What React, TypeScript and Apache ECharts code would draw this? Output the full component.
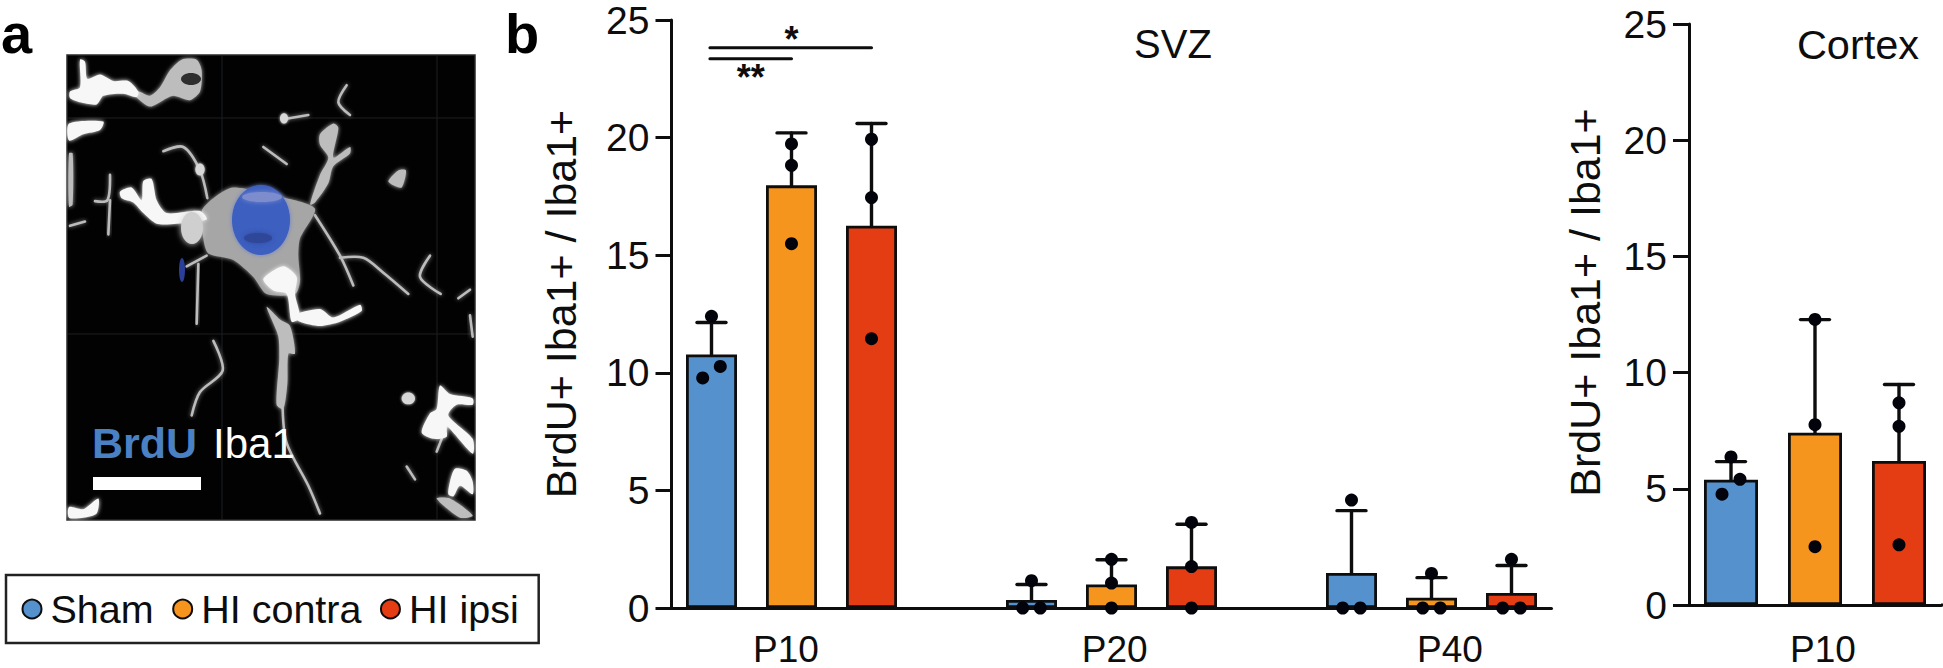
import React, { useEffect, useRef } from "react";
import * as echarts from "echarts";

const FONT = '"Liberation Sans", Arial, sans-serif';
const INK = "#0d0d0d";

const groupNames = ["Sham", "HI contra", "HI ipsi"];
const groupColors = ["#5591cc", "#f6951e", "#e53d13"];
const yLabel = "BrdU+ Iba1+ / Iba1+";

const svzTimeLabels = ["P10", "P20", "P40"];
const svzLabelSlots = [1.431, 5.54, 9.73];
const svzSlotNames = ["P10 Sham", "P10 HI contra", "P10 HI ipsi", "", "P20 Sham", "P20 HI contra", "P20 HI ipsi", " ", "P40 Sham", "P40 HI contra", "P40 HI ipsi"];
const svzSlots = [[0, 4, 8], [1, 5, 9], [2, 6, 10]];

const svzShamMeans = [10.78, 0.34, 1.49];
const svzContraMeans = [17.97, 1.0, 0.44];
const svzIpsiMeans = [16.25, 1.77, 0.64];
const svzShamCaps = [12.14, 1.0, 4.14];
const svzContraCaps = [20.2, 2.05, 1.29];
const svzIpsiCaps = [20.6, 3.56, 1.81];
// [offset within the slot, value]
const svzShamDots = [
  [[0, 12.4], [0.11, 10.27], [-0.11, 9.78]],
  [[0, 1.16], [0.11, 0], [-0.11, 0]],
  [[0, 4.59], [0.11, 0], [-0.11, 0]],
];
const svzContraDots = [
  [[0, 19.73], [0, 18.82], [0, 15.49]],
  [[0, 2.07], [0, 1.06], [0, 0]],
  [[0, 1.47], [0.11, 0], [-0.11, 0]],
];
const svzIpsiDots = [
  [[0, 19.93], [0, 17.45], [0, 11.45]],
  [[0, 3.64], [0, 1.76], [0, 0]],
  [[0, 2.07], [0.11, 0], [-0.11, 0]],
];

const cortexLabels = ["P10"];
const cortexLabelSlots = [1.595];
const cortexSlotNames = ["P10 Sham", "P10 HI contra", "P10 HI ipsi"];
const cortexMeans = [5.39, 7.41, 6.2];
const cortexCaps = [6.17, 12.28, 9.49];
const cortexDots = [
  [[0, 6.37], [0.107, 5.41], [-0.107, 4.77]],
  [[0, 12.29], [0, 7.76], [0, 2.51]],
  [[0, 8.7], [0, 7.69], [0, 2.59]],
];

const sigLines = [
  { from: 0.48, to: 2.5, y: 23.82 },
  { from: 0.48, to: 1.5, y: 23.35 },
];
const sigMarks = [
  { x: 1.5, y: 24.17, text: "*" },
  { x: 0.99, y: 22.57, text: "**" },
];

// Micrograph shapes traced in the local space of the picture panel
const whiteShapes: number[][][] = [
  [[210, 215], [240, 205], [240, 140], [255, 145], [262, 185], [300, 175], [340, 190], [385, 190], [415, 215], [410, 228], [370, 220], [310, 225], [290, 245], [240, 240], [210, 230]],
  [[207, 290], [310, 285], [300, 305], [250, 315], [207, 330]],
  [[360, 450], [395, 440], [425, 470], [430, 425], [455, 420], [470, 470], [500, 500], [600, 495], [620, 515], [530, 525], [470, 525], [430, 500], [400, 475], [365, 465]],
  [[880, 740], [960, 725], [1000, 745], [1080, 715], [1085, 730], [1020, 755], [960, 765], [900, 755]],
  [[1265, 1015], [1290, 970], [1310, 960], [1320, 905], [1350, 925], [1418, 935], [1418, 950], [1370, 950], [1345, 975], [1418, 1030], [1418, 1065], [1340, 1000], [1340, 1025], [1300, 1030]],
  [[1350, 1130], [1365, 1100], [1400, 1105], [1418, 1130], [1418, 1160], [1380, 1140], [1360, 1165], [1345, 1160]],
  [[207, 1190], [250, 1195], [295, 1170], [290, 1205], [250, 1215], [207, 1215]],
  [[790, 655], [850, 625], [890, 650], [885, 690], [900, 745], [875, 755], [860, 690], [820, 682]],
];
const greyShapes: number[][][] = [
  [[415, 215], [450, 225], [480, 205], [510, 165], [545, 140], [590, 140], [605, 165], [600, 215], [570, 235], [520, 225], [490, 235], [450, 250], [410, 228]],
  [[207, 360], [218, 360], [218, 480], [207, 485]],
  [[930, 480], [960, 410], [985, 370], [960, 340], [960, 315], [1000, 290], [1015, 300], [1000, 370], [1050, 345], [1050, 360], [1000, 390], [985, 430], [945, 475]],
  [[800, 720], [840, 750], [870, 765], [885, 830], [865, 830], [862, 900], [850, 960], [830, 950], [838, 840], [835, 790], [815, 750]],
  [[1310, 1170], [1350, 1170], [1418, 1210], [1380, 1215]],
  [[1165, 425], [1195, 400], [1218, 400], [1205, 440], [1180, 435]],
];
const cellBody = [[605, 495], [640, 465], [700, 440], [860, 465], [945, 490], [900, 560], [895, 600], [900, 660], [885, 690], [800, 690], [760, 650], [700, 610], [625, 595], [610, 560]];
const thin: number[][][] = [
  [[945, 505], [1020, 600], [1060, 670]],
  [[1020, 605], [1090, 605], [1150, 640], [1225, 690]],
  [[490, 355], [550, 345], [600, 400], [622, 465]],
  [[790, 345], [860, 385]],
  [[850, 280], [925, 270]],
  [[595, 620], [590, 760]],
  [[560, 625], [620, 600]],
  [[848, 960], [860, 1040], [925, 1140], [960, 1205]],
  [[210, 530], [255, 520]],
  [[1290, 600], [1260, 650], [1322, 690]],
  [[1040, 200], [1015, 240], [1050, 270]],
  [[1220, 1095], [1245, 1125]],
  [[1375, 700], [1410, 680]],
  [[1410, 740], [1418, 790]],
  [[640, 800], [668, 870], [600, 920], [575, 975]],
  [[330, 410], [322, 470], [285, 472]],
  [[330, 470], [325, 550]],
  [[1310, 1060], [1340, 1000]],
];
// [x, y, rx, ry]
const specks: number[][] = [
  [852, 278, 12, 12],
  [1225, 935, 20, 14],
  [600, 398, 14, 14],
];

const toPx = (p: number[]) => [p[0] / 3, p[1] / 2.347];

function stroke(points: number[][], lineWidth: number, color: string) {
  return {
    type: "polyline",
    shape: { points: points.map(toPx), smooth: 0.3 },
    style: { stroke: color, lineWidth, fill: "none", lineCap: "round", lineJoin: "round", shadowBlur: 4, shadowColor: "rgba(190,190,190,0.7)" },
    silent: true,
  };
}

function blob(points: number[][], color: string) {
  return {
    type: "polygon",
    shape: { points: points.map(toPx), smooth: 0.25 },
    style: { fill: color, shadowBlur: 4, shadowColor: color },
    silent: true,
  };
}

function micrograph() {
  const grid = [
    { shape: { x1: 222, y1: 56, x2: 222, y2: 519 } },
    { shape: { x1: 437, y1: 56, x2: 437, y2: 519 } },
    { shape: { x1: 68, y1: 118, x2: 474, y2: 118 } },
    { shape: { x1: 68, y1: 334, x2: 474, y2: 334 } },
  ].map((l) => ({ type: "line", ...l, style: { stroke: "#1a1e22", lineWidth: 1 }, silent: true }));
  return [
    { type: "rect", shape: { x: 67, y: 55, width: 408, height: 465 }, style: { fill: "#020202", stroke: "#2a2a2a", lineWidth: 1.5 }, silent: true },
    ...grid,
    ...thin.map((s) => stroke(s, 2.6, "#bcbcbc")),
    ...greyShapes.map((s) => blob(s, "#bdbdbd")),
    blob(cellBody, "#a6a6a6"),
    ...whiteShapes.map((s) => blob(s, "#f7f7f7")),
    { type: "ellipse", shape: { cx: 192, cy: 535 / 2.347, rx: 11, ry: 16 }, style: { fill: "#cfcfcf", shadowBlur: 6, shadowColor: "#cfcfcf" }, silent: true },
    { type: "ellipse", shape: { cx: 191, cy: 79, rx: 10, ry: 6 }, style: { fill: "#2e2e2e" }, silent: true },
    ...specks.map(([x, y, rx, ry]) => ({
      type: "ellipse",
      shape: { cx: x / 3, cy: y / 2.347, rx: rx / 3, ry: ry / 2.347 },
      style: { fill: "#d8d8d8", shadowBlur: 3, shadowColor: "#d8d8d8" },
      silent: true,
    })),
    { type: "ellipse", shape: { cx: 261, cy: 220, rx: 29, ry: 35 }, style: { fill: "#3d5ec0", shadowBlur: 4, shadowColor: "#6a7fc8" }, silent: true },
    { type: "ellipse", shape: { cx: 262, cy: 197, rx: 20, ry: 5 }, style: { fill: "#7c8ccd", shadowBlur: 5, shadowColor: "#7c8ccd" }, silent: true },
    { type: "ellipse", shape: { cx: 258, cy: 238, rx: 14, ry: 5 }, style: { fill: "#2f4699", shadowBlur: 5, shadowColor: "#2f4699" }, silent: true },
    { type: "ellipse", shape: { cx: 182, cy: 270, rx: 3, ry: 12 }, style: { fill: "#2b3f96" }, silent: true },
    { type: "text", x: 92, y: 443, style: { text: "BrdU", font: `bold 43px ${FONT}`, fill: "#4a80c4", verticalAlign: "middle" }, silent: true },
    { type: "text", x: 213, y: 443, style: { text: "Iba1", font: `42px ${FONT}`, fill: "#ffffff", verticalAlign: "middle" }, silent: true },
    { type: "rect", shape: { x: 93, y: 477, width: 108, height: 13 }, style: { fill: "#ffffff" }, silent: true },
  ];
}

function errorSeries(name: string, xAxisIndex: number, yAxisIndex: number, data: number[][]) {
  return {
    type: "custom",
    name,
    xAxisIndex,
    yAxisIndex,
    z: 3,
    clip: false,
    data,
    renderItem: (_: any, api: any) => {
      const base = api.coord([api.value(0), api.value(1)]);
      const top = api.coord([api.value(0), api.value(2)]);
      const half = 14.5;
      const style = { stroke: INK, lineWidth: 3.4, lineCap: "round" };
      return {
        type: "group",
        children: [
          { type: "line", shape: { x1: base[0], y1: base[1], x2: top[0], y2: top[1] }, style },
          { type: "line", shape: { x1: top[0] - half, y1: top[1], x2: top[0] + half, y2: top[1] }, style },
        ],
      };
    },
  };
}

function dotsSeries(name: string, xAxisIndex: number, yAxisIndex: number, data: number[][]) {
  return {
    type: "scatter",
    name,
    xAxisIndex,
    yAxisIndex,
    z: 4,
    clip: false,
    symbol: "circle",
    symbolSize: 13,
    itemStyle: { color: "#03030c", opacity: 1 },
    data,
  };
}

function barSeries(i: number, xAxisIndex: number, yAxisIndex: number, data: (number | null)[], barWidth: number) {
  return {
    type: "bar",
    name: groupNames[i],
    xAxisIndex,
    yAxisIndex,
    z: 2,
    barWidth,
    barGap: "-100%",
    itemStyle: { color: groupColors[i], borderColor: INK, borderWidth: 2.8 },
    data,
  };
}

function yAxis(gridIndex: number, nameGap: number, shift: number) {
  return {
    type: "value",
    gridIndex,
    min: 0,
    max: 25,
    interval: 5,
    name: yLabel,
    nameLocation: "middle",
    nameGap,
    nameRotate: 90,
    nameTextStyle: { fontFamily: FONT, fontSize: 43, color: INK, padding: [0, 0, 0, shift] },
    axisLine: { show: true, onZero: false, lineStyle: { color: INK, width: 3 } },
    axisTick: { show: true, length: 16, lineStyle: { color: INK, width: 3 } },
    axisLabel: { fontFamily: FONT, fontSize: 39, color: INK, margin: 22 },
    splitLine: { show: false },
  };
}

function categoryAxis(gridIndex: number, data: string[]) {
  return {
    type: "category",
    gridIndex,
    position: "bottom",
    data,
    axisLine: { show: true, onZero: false, lineStyle: { color: INK, width: 3 } },
    axisTick: { show: false },
    axisLabel: { show: false },
  };
}

function labelAxis(gridIndex: number, max: number, slots: number[], labels: string[], margin: number) {
  return {
    type: "value",
    gridIndex,
    position: "bottom",
    min: 0,
    max,
    axisLine: { show: false },
    axisTick: { show: false },
    splitLine: { show: false },
    axisLabel: {
      fontFamily: FONT,
      fontSize: 37,
      lineHeight: 34,
      color: INK,
      margin,
      customValues: slots,
      formatter: (v: number) => labels[slots.indexOf(v)] ?? "",
    },
  };
}

function buildOption() {
  const svzMeans = [svzShamMeans, svzContraMeans, svzIpsiMeans];
  const svzCaps = [svzShamCaps, svzContraCaps, svzIpsiCaps];
  const svzDots = [svzShamDots, svzContraDots, svzIpsiDots];
  const series: any[] = [];

  groupNames.forEach((_, g) => {
    const barData: (number | null)[] = svzSlotNames.map(() => null);
    svzSlots[g].forEach((slot, k) => (barData[slot] = svzMeans[g][k]));
    series.push(barSeries(g, 0, 0, barData, 51));
    series.push(errorSeries("SVZ error " + g, 1, 0, svzSlots[g].map((slot, k) => [slot + 0.5, svzMeans[g][k], svzCaps[g][k]])));
    series.push(dotsSeries("SVZ points " + g, 1, 0, svzSlots[g].flatMap((slot, k) => svzDots[g][k].map(([o, v]) => [slot + 0.5 + o, v]))));

    const cortexData: (number | null)[] = cortexSlotNames.map((_n, s) => (s === g ? cortexMeans[g] : null));
    series.push(barSeries(g, 2, 1, cortexData, 54));
    series.push(errorSeries("Cortex error " + g, 3, 1, [[g + 0.5, cortexMeans[g], cortexCaps[g]]]));
    series.push(dotsSeries("Cortex points " + g, 3, 1, cortexDots[g].map(([o, v]) => [g + 0.5 + o, v])));
  });

  series.push({
    type: "custom",
    name: "Significance",
    xAxisIndex: 1,
    yAxisIndex: 0,
    z: 5,
    clip: false,
    data: sigLines.map((l) => [l.from, l.to, l.y]),
    renderItem: (_: any, api: any) => {
      const a = api.coord([api.value(0), api.value(2)]);
      const b = api.coord([api.value(1), api.value(2)]);
      return { type: "line", shape: { x1: a[0], y1: a[1], x2: b[0], y2: b[1] }, style: { stroke: INK, lineWidth: 3, lineCap: "round" } };
    },
  });
  series.push({
    type: "scatter",
    name: "Significance marks",
    xAxisIndex: 1,
    yAxisIndex: 0,
    z: 5,
    clip: false,
    symbolSize: 0,
    itemStyle: { opacity: 1 },
    data: sigMarks.map((m) => ({
      value: [m.x, m.y],
      label: { show: true, position: "inside", formatter: m.text, fontFamily: FONT, fontSize: 36, color: INK, fontWeight: "bold" },
    })),
  });

  return {
    animation: false,
    backgroundColor: "#ffffff",
    textStyle: { fontFamily: FONT },
    title: [
      { text: "SVZ", left: 1168, top: 19, textAlign: "center", textStyle: { fontFamily: FONT, fontSize: 40, fontWeight: "normal", color: INK } },
      { text: "Cortex", left: 1853, top: 18, textAlign: "center", textStyle: { fontFamily: FONT, fontSize: 41.5, fontWeight: "normal", color: INK } },
    ],
    legend: {
      data: groupNames,
      left: 6,
      top: 575,
      orient: "horizontal",
      icon: "circle",
      itemWidth: 19,
      itemHeight: 19,
      itemGap: 18.5,
      padding: [14, 20, 14, 15.5],
      borderColor: "#222",
      borderWidth: 2.5,
      selectedMode: false,
      textStyle: { fontFamily: FONT, fontSize: 39.5, color: INK, padding: [0, 0, 0, 4] },
      itemStyle: { borderWidth: 2, borderColor: INK },
    },
    grid: [
      { left: 671.5, top: 20, width: 880, height: 588 },
      { left: 1689, top: 24, width: 252, height: 581 },
    ],
    xAxis: [
      categoryAxis(0, svzSlotNames),
      labelAxis(0, 11, svzLabelSlots, svzTimeLabels, 24),
      categoryAxis(1, cortexSlotNames),
      labelAxis(1, 3, cortexLabelSlots, cortexLabels, 27),
    ],
    yAxis: [yAxis(0, 89, 20), yAxis(1, 83, 24)],
    series,
    graphic: [
      { type: "text", x: 1, y: 33, style: { text: "a", font: `bold 56px ${FONT}`, fill: "#000", verticalAlign: "middle" }, silent: true },
      { type: "text", x: 505, y: 33, style: { text: "b", font: `bold 56px ${FONT}`, fill: "#000", verticalAlign: "middle" }, silent: true },
      { type: "line", shape: { x1: 1941, y1: 605, x2: 1943, y2: 605 }, style: { stroke: INK, lineWidth: 3 }, silent: true },
      ...micrograph(),
    ],
  };
}

export default function App() {
  const ref = useRef<HTMLDivElement>(null);
  useEffect(() => {
    document.body.style.margin = "0";
    const chart = echarts.init(ref.current!, undefined, { renderer: "svg" });
    chart.setOption(buildOption() as any);
    return () => chart.dispose();
  }, []);
  return <div ref={ref} style={{ width: 1943, height: 668 }} />;
}
